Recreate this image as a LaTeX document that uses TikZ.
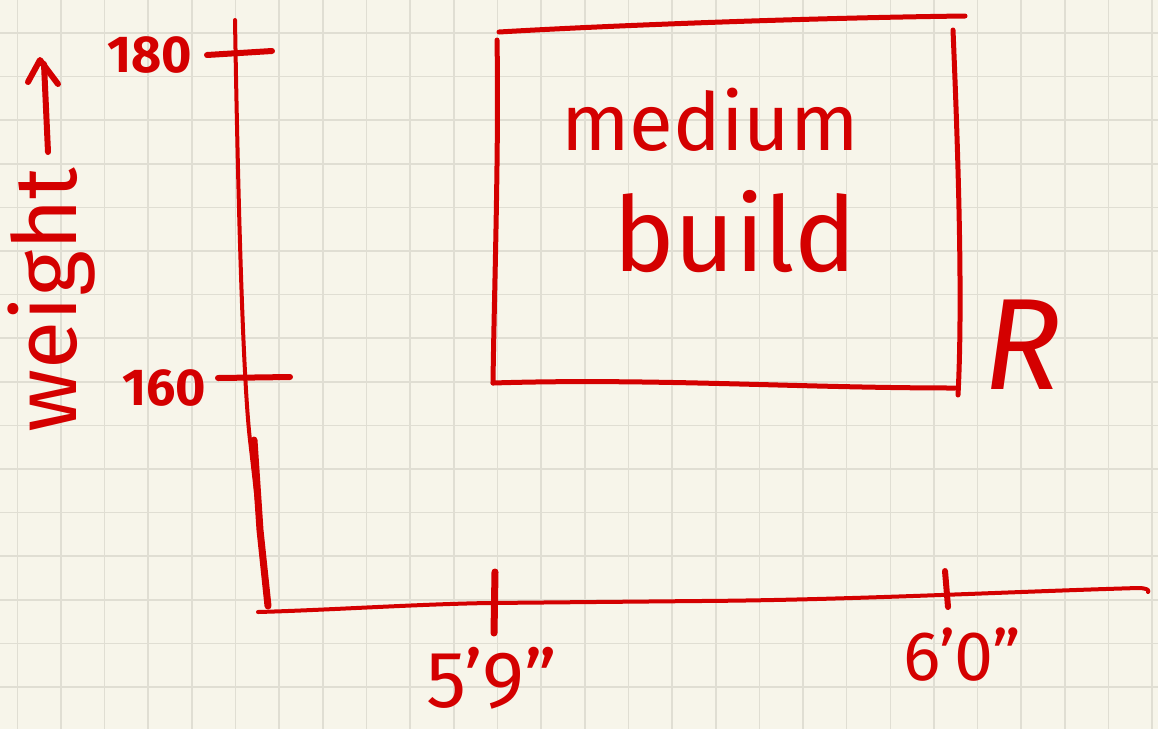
\documentclass[tikz,border=0pt]{standalone}
\usepackage{fontspec}
\setmainfont{Fira Sans}
\definecolor{paper}{HTML}{F7F5EA}
\definecolor{gridc}{HTML}{E0DED3}
\definecolor{ink}{HTML}{D40000}
\tikzset{
  pen/.style={draw=ink, line width=#1, line cap=round, line join=round},
  pen/.default=5pt,
  lbl/.style={text=ink, inner sep=0pt},
}
\begin{document}
\begin{tikzpicture}[x=1pt,y=-1pt]
\fill[paper] (0,0) rectangle (1158,729);
\useasboundingbox (0,0) rectangle (1158,729);
% grid
\foreach \k in {0,...,26} \draw[gridc, line width=1.6pt] ({17.3+43.65*\k},0) -- ({17.3+43.65*\k},729);
\foreach \k in {0,...,15} \draw[gridc, line width=1.6pt] (0,{33+43.6*\k}) -- (1158,{33+43.6*\k});
% axes
\coordinate (ytop) at (235,20);
\coordinate (origin) at (268,606);
\coordinate (xend) at (1148,592);
\draw[pen=4pt] (ytop) .. controls (238,200) and (243,380) .. (250,440) -- (258,510);
\draw[pen=7pt] (254,440) -- (260,530) -- (origin);
\draw[pen=4pt] (258,612) .. controls (330,610) and (420,604) .. (490,603) -- (700,601) .. controls (850,600) and (1000,592) .. (1138,588) .. controls (1146,588) and (1150,590) .. (xend);
% ticks
\draw[pen=6pt] (207,55) -- (272,51);
\draw[pen=6pt] (218,378) -- (290,377);
\draw[pen=7pt] (495,572) -- (494,633);
\draw[pen=6pt] (945,571) -- (948,607);
% box
\draw[pen=5pt] (499,32) .. controls (600,26) and (800,18) .. (965,16);
\draw[pen=5pt] (497,40) .. controls (499,150) and (494,300) .. (493,383);
\draw[pen=5pt] (493,383) .. controls (650,378) and (800,388) .. (955,388);
\draw[pen=5pt] (953,30) .. controls (958,150) and (963,300) .. (958,395);
% labels
\node[lbl, font=\fontsize{52}{52}\selectfont\bfseries] (l180) at (150,55) {180};
\node[lbl, font=\fontsize{52}{52}\selectfont\bfseries] (l160) at (164,388) {160};
\node[lbl, font=\fontsize{88}{88}\selectfont, rotate=90] (wt) at (52,300) {weight};
\draw[pen=6pt] (48,152) -- (44,64);
\draw[pen=6pt] (28,82) -- (40,60) -- (58,84);
\node[lbl, font=\fontsize{80}{80}\selectfont] (med) at (710,120) {medium};
\node[lbl, font=\fontsize{104}{104}\selectfont] (bld) at (735,232) {build};
\node[lbl, font=\fontsize{130}{130}\selectfont\itshape] (R) at (1022,345) {R};
\node[lbl, font=\fontsize{80}{80}\selectfont] (h1) at (492,678) {5’9"};
\node[lbl, font=\fontsize{70}{70}\selectfont] (h2) at (962,655) {6’0"};
\end{tikzpicture}
\end{document}
